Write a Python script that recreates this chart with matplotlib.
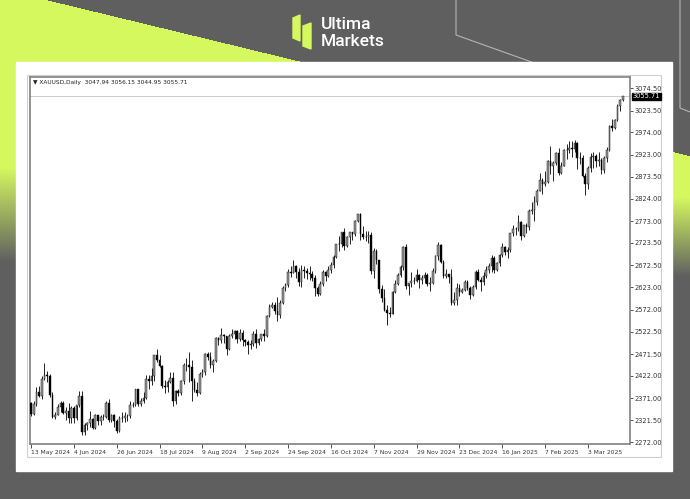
import numpy as np
import matplotlib
matplotlib.use("Agg")
import matplotlib.pyplot as plt
from matplotlib.patches import Rectangle, Polygon

# XAUUSD daily bars, 13 May 2024 .. 20 Mar 2025
opens = [2360, 2336, 2358, 2386, 2377, 2415, 2425, 2421, 2379, 2329,
         2334, 2351, 2361, 2338, 2343, 2327, 2350, 2327, 2355, 2376,
         2294, 2311, 2316, 2324, 2303, 2333, 2319, 2329, 2328, 2360,
         2322, 2334, 2319, 2297, 2327, 2326, 2332, 2330, 2356, 2357,
         2392, 2358, 2364, 2372, 2415, 2411, 2422, 2469, 2459, 2445,
         2400, 2396, 2409, 2417, 2364, 2387, 2384, 2410, 2447, 2446,
         2443, 2410, 2390, 2382, 2427, 2431, 2472, 2465, 2447, 2456,
         2507, 2504, 2514, 2512, 2484, 2512, 2518, 2524, 2505, 2520,
         2503, 2499, 2493, 2495, 2516, 2497, 2506, 2516, 2512, 2558,
         2577, 2582, 2569, 2559, 2587, 2622, 2628, 2657, 2656, 2672,
         2658, 2634, 2663, 2659, 2656, 2653, 2644, 2622, 2608, 2631,
         2657, 2649, 2662, 2674, 2692, 2721, 2720, 2748, 2716, 2736,
         2747, 2743, 2774, 2788, 2743, 2736, 2737, 2742, 2659, 2706,
         2684, 2618, 2598, 2572, 2565, 2562, 2612, 2631, 2651, 2669,
         2715, 2626, 2632, 2637, 2638, 2650, 2640, 2643, 2650, 2631,
         2633, 2660, 2694, 2718, 2680, 2648, 2652, 2646, 2587, 2595,
         2622, 2612, 2617, 2634, 2621, 2606, 2624, 2658, 2640, 2635,
         2648, 2661, 2670, 2690, 2662, 2677, 2697, 2714, 2703, 2708,
         2745, 2755, 2754, 2770, 2740, 2763, 2759, 2795, 2798, 2815,
         2842, 2867, 2856, 2861, 2908, 2897, 2904, 2928, 2882, 2898,
         2935, 2933, 2939, 2936, 2951, 2915, 2917, 2876, 2857, 2893,
         2918, 2920, 2910, 2911, 2888, 2917, 2934, 2988, 2984, 3001,
         3034, 3047.94]
highs = [2362, 2365, 2396, 2398, 2422, 2450, 2433, 2427, 2385, 2341,
         2358, 2364, 2364, 2351, 2360, 2354, 2353, 2356, 2388, 2387,
         2315, 2318, 2342, 2327, 2336, 2334, 2334, 2336, 2366, 2369,
         2335, 2336, 2324, 2331, 2339, 2339, 2335, 2365, 2363, 2393,
         2393, 2372, 2385, 2425, 2424, 2440, 2469, 2483, 2469, 2447,
         2412, 2412, 2431, 2430, 2390, 2393, 2413, 2451, 2462, 2477,
         2459, 2418, 2407, 2431, 2438, 2474, 2477, 2477, 2460, 2509,
         2510, 2531, 2516, 2513, 2517, 2528, 2526, 2526, 2529, 2525,
         2505, 2504, 2503, 2523, 2529, 2507, 2518, 2529, 2560, 2586,
         2590, 2589, 2600, 2595, 2625, 2632, 2664, 2670, 2685, 2674,
         2667, 2673, 2671, 2667, 2671, 2660, 2650, 2625, 2636, 2661,
         2659, 2672, 2680, 2696, 2722, 2740, 2749, 2758, 2739, 2749,
         2749, 2775, 2790, 2791, 2761, 2750, 2750, 2749, 2711, 2710,
         2685, 2627, 2618, 2583, 2579, 2614, 2639, 2656, 2674, 2716,
         2722, 2633, 2657, 2646, 2665, 2652, 2650, 2658, 2656, 2647,
         2667, 2696, 2726, 2722, 2684, 2664, 2653, 2664, 2612, 2632,
         2631, 2621, 2639, 2639, 2626, 2627, 2661, 2665, 2646, 2657,
         2670, 2677, 2697, 2693, 2679, 2698, 2724, 2716, 2713, 2746,
         2764, 2760, 2786, 2772, 2765, 2769, 2800, 2817, 2830, 2845,
         2882, 2870, 2886, 2911, 2942, 2909, 2929, 2938, 2906, 2936,
         2947, 2955, 2954, 2956, 2953, 2929, 2922, 2882, 2898, 2928,
         2930, 2926, 2930, 2915, 2920, 2940, 2990, 3005, 3004, 3038,
         3049, 3056.15]
lows = [2332, 2333, 2354, 2373, 2369, 2412, 2407, 2374, 2326, 2325,
        2333, 2340, 2335, 2323, 2314, 2315, 2314, 2323, 2352, 2287,
        2287, 2299, 2306, 2301, 2302, 2310, 2311, 2322, 2327, 2317,
        2318, 2307, 2293, 2294, 2318, 2318, 2319, 2327, 2351, 2353,
        2353, 2354, 2361, 2370, 2392, 2402, 2411, 2453, 2442, 2394,
        2383, 2385, 2405, 2353, 2359, 2376, 2379, 2404, 2432, 2409,
        2364, 2385, 2377, 2381, 2420, 2425, 2457, 2440, 2431, 2454,
        2491, 2497, 2497, 2470, 2481, 2507, 2506, 2496, 2502, 2490,
        2489, 2471, 2484, 2490, 2485, 2491, 2500, 2500, 2511, 2555,
        2575, 2562, 2546, 2553, 2585, 2614, 2624, 2645, 2655, 2643,
        2625, 2624, 2644, 2642, 2639, 2636, 2604, 2603, 2605, 2626,
        2637, 2645, 2656, 2666, 2690, 2705, 2714, 2708, 2714, 2721,
        2729, 2738, 2770, 2730, 2733, 2728, 2723, 2652, 2643, 2675,
        2609, 2590, 2569, 2537, 2555, 2562, 2609, 2627, 2646, 2663,
        2618, 2605, 2623, 2630, 2634, 2622, 2630, 2633, 2626, 2614,
        2630, 2656, 2685, 2677, 2643, 2643, 2632, 2583, 2583, 2582,
        2602, 2610, 2614, 2616, 2597, 2603, 2620, 2636, 2614, 2628,
        2643, 2656, 2658, 2656, 2660, 2672, 2692, 2697, 2690, 2703,
        2738, 2741, 2750, 2730, 2736, 2746, 2752, 2790, 2772, 2810,
        2840, 2834, 2853, 2859, 2880, 2864, 2900, 2878, 2880, 2897,
        2914, 2927, 2918, 2930, 2890, 2903, 2873, 2832, 2845, 2883,
        2893, 2895, 2897, 2880, 2881, 2906, 2932, 2977, 2982, 3000,
        3022, 3044.95]
closes = [2336, 2358, 2386, 2377, 2415, 2425, 2421, 2379, 2329, 2334,
          2351, 2361, 2338, 2343, 2327, 2350, 2327, 2355, 2376, 2294,
          2311, 2316, 2324, 2303, 2333, 2319, 2329, 2328, 2360, 2322,
          2334, 2319, 2297, 2327, 2326, 2332, 2330, 2356, 2357, 2392,
          2358, 2364, 2372, 2415, 2411, 2422, 2469, 2459, 2445, 2400,
          2396, 2409, 2417, 2364, 2387, 2384, 2410, 2447, 2446, 2443,
          2410, 2390, 2382, 2427, 2431, 2472, 2465, 2447, 2456, 2507,
          2504, 2514, 2512, 2484, 2512, 2518, 2524, 2505, 2520, 2503,
          2499, 2493, 2495, 2516, 2497, 2506, 2516, 2512, 2558, 2577,
          2582, 2569, 2559, 2587, 2622, 2628, 2657, 2656, 2672, 2658,
          2634, 2663, 2659, 2656, 2653, 2644, 2622, 2608, 2631, 2657,
          2649, 2662, 2674, 2692, 2721, 2720, 2748, 2716, 2736, 2747,
          2743, 2774, 2788, 2743, 2736, 2737, 2742, 2659, 2706, 2684,
          2618, 2598, 2572, 2565, 2562, 2612, 2631, 2651, 2669, 2715,
          2626, 2632, 2637, 2638, 2650, 2640, 2643, 2650, 2631, 2633,
          2660, 2694, 2718, 2680, 2648, 2652, 2646, 2587, 2595, 2622,
          2612, 2617, 2634, 2621, 2606, 2624, 2658, 2640, 2635, 2648,
          2661, 2670, 2690, 2662, 2677, 2697, 2714, 2703, 2708, 2745,
          2755, 2754, 2770, 2740, 2763, 2759, 2795, 2798, 2815, 2842,
          2867, 2856, 2861, 2908, 2897, 2904, 2928, 2882, 2898, 2935,
          2933, 2939, 2936, 2951, 2915, 2917, 2876, 2857, 2893, 2918,
          2920, 2910, 2911, 2888, 2917, 2934, 2988, 2984, 3001, 3034,
          3047, 3055.71]

date_labels = ["13 May 2024", "4 Jun 2024", "26 Jun 2024", "18 Jul 2024",
               "9 Aug 2024", "2 Sep 2024", "24 Sep 2024", "16 Oct 2024",
               "7 Nov 2024", "29 Nov 2024", "23 Dec 2024", "16 Jan 2025",
               "7 Feb 2025", "3 Mar 2025"]
label_step = 16  # one date label every 16 bars
price_ticks = [2272.00, 2321.50, 2371.00, 2422.00, 2471.50, 2522.50, 2572.00,
               2623.00, 2672.50, 2723.50, 2773.00, 2824.00, 2873.50, 2923.00,
               2974.00, 3023.50, 3074.50]
header = "\u25bc XAUUSD,Daily  3047.94 3056.15 3044.95 3055.71"
last_price = 3055.71

LIME = "#d5f85f"
GREY_BG = "#5f5f5f"

fig = plt.figure(figsize=(6.9, 4.99), dpi=100)

# background in pixel coordinates
bg = fig.add_axes([0, 0, 1, 1])
bg.set_xlim(0, 690)
bg.set_ylim(499, 0)
bg.axis("off")
bg.add_patch(Rectangle((0, 0), 690, 499, color=GREY_BG, zorder=0))

# lime band below the diagonal, fading out downwards
yy, xx = np.mgrid[0:499, 0:690] + 0.5
fade_top = 168 + xx * 30 / 690
fade_bot = 262 + xx * 15 / 690
alpha = np.clip((fade_bot - yy) / (fade_bot - fade_top), 0, 1)
alpha[yy < (xx - 46) * 0.2425] = 0
img = np.zeros((499, 690, 4))
img[..., :3] = matplotlib.colors.to_rgb(LIME)
img[..., 3] = alpha
bg.imshow(img, extent=(0, 690, 499, 0), aspect="auto", zorder=1,
          interpolation="bilinear")

# thin outline lines
bg.plot([456, 456, 540], [0, 35, 65], color="#b4b4b4", lw=0.8, zorder=2)
bg.plot([680, 680, 690], [0, 108, 112], color="#b4b4b4", lw=0.8, zorder=2)

# logo
bg.add_patch(Polygon([(293, 18), (300, 15), (300, 41), (293, 38)],
                     color=LIME, zorder=2))
bg.add_patch(Polygon([(303, 26), (311, 23), (311, 49), (303, 46)],
                     color=LIME, zorder=2))
bg.text(321, 24, "Ultima", color="white", fontsize=12.5, family="Roboto",
        fontweight="medium", va="center", ha="left", zorder=2)
bg.text(321, 41, "Markets", color="white", fontsize=12.5, family="Roboto",
        fontweight="medium", va="center", ha="left", zorder=2)

# white card and terminal frame
bg.add_patch(Rectangle((16, 62), 656, 409, color="white", zorder=3))
bg.add_patch(Rectangle((27, 75), 634, 382, fill=False, ec="#cfcfcf",
                       lw=0.8, zorder=4))

# chart
ax = fig.add_axes([30 / 690, 1 - 444 / 499, 600 / 690, (444 - 77) / 499])
ax.set_zorder(5)
ax.set_facecolor("white")

o = np.array(opens)
h = np.array(highs)
l = np.array(lows)
c = np.array(closes)
x = np.arange(len(c))
up = c >= o

ax.vlines(x, l, h, color="black", lw=0.6, zorder=2)
ax.bar(x[up], (c - o)[up], bottom=o[up], width=0.62, color="#9b9b9b",
       edgecolor="black", linewidth=0.3, zorder=3)
ax.bar(x[~up], (o - c)[~up], bottom=c[~up], width=0.62, color="black",
       edgecolor="black", linewidth=0.3, zorder=3)

ax.axhline(last_price, color="#c4c4c4", lw=0.6, zorder=1)

ax.set_xlim(-0.4, 223.7)
ax.set_ylim(2267.5, 3099.5)

ax.yaxis.tick_right()
ax.set_yticks(price_ticks)
ax.set_yticklabels([f"{v:.2f}" for v in price_ticks])
ax.tick_params(axis="y", labelsize=4.8, length=2, width=0.6, pad=1,
               colors="#333333")
ax.set_xticks(np.arange(len(date_labels)) * label_step)
ax.set_xticklabels(date_labels)
for lab in ax.get_xticklabels():
    lab.set_ha("left")
ax.tick_params(axis="x", labelsize=4.3, length=3, width=0.6, pad=1.5,
               colors="#333333")

for s in ax.spines.values():
    s.set_color("#808080")
    s.set_linewidth(1.2)

ax.text(1.004, last_price, f"{last_price:.2f}", transform=ax.get_yaxis_transform(),
        fontsize=4.8, color="white", va="center", ha="left", clip_on=False,
        bbox=dict(facecolor="black", edgecolor="black", pad=0.6), zorder=6)
ax.text(0.005, 0.984, header, transform=ax.transAxes, fontsize=4.2,
        va="center", ha="left", color="#222222")

fig.savefig("out.png", dpi=100)
